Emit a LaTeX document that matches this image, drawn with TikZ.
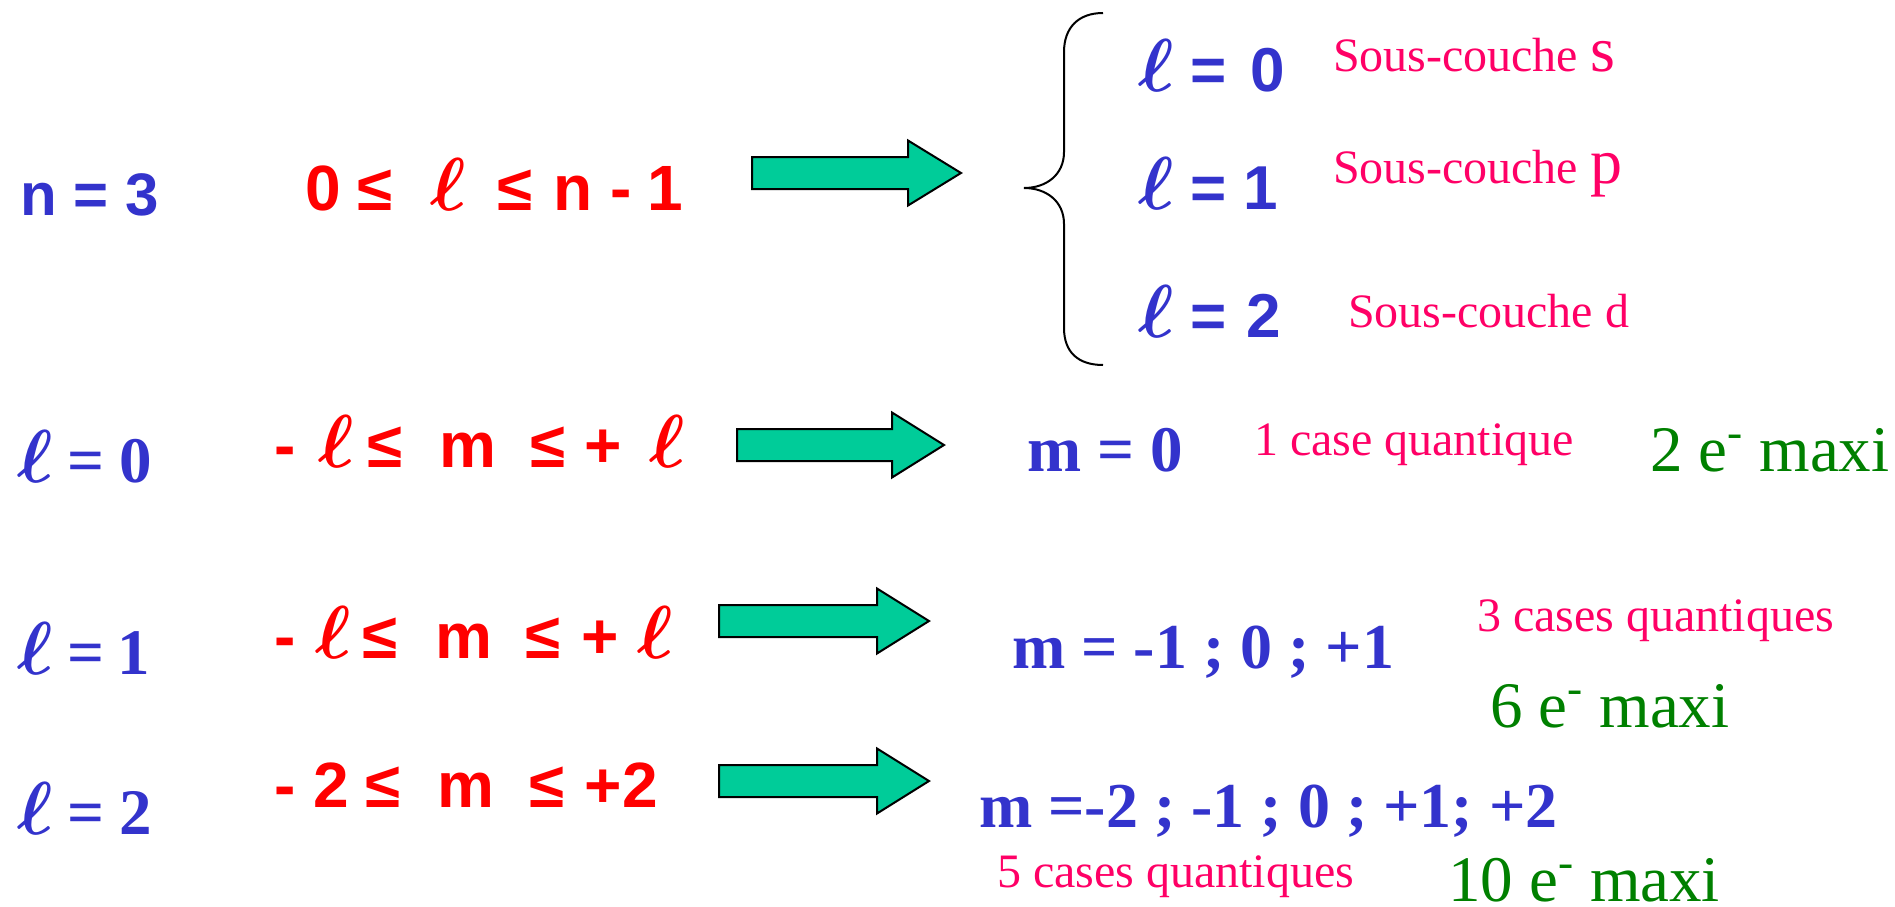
\RequirePackage{fix-cm}
\documentclass[tikz,border=0pt]{standalone}
\usepackage{fontspec}
\setmainfont{Liberation Serif}
\newfontfamily\arialfont{Liberation Sans}
\definecolor{cblue}{RGB}{51,51,204}
\definecolor{cred}{RGB}{255,0,0}
\definecolor{cpink}{RGB}{255,0,102}
\definecolor{cgreen}{RGB}{0,128,0}
\definecolor{cteal}{RGB}{0,204,153}
\newcommand\fsz[1]{\fontsize{#1}{#1}\selectfont}
\newcommand\pcs[2]{\makebox[#1pt][l]{#2}}
\newcommand\ellx{{\fsz{75}\boldmath$\ell$}}
\newcommand\blockarr[4]{%
  \draw[arrowst] (#1,{#2-16}) -- (#3,{#2-16}) -- (#3,{#2-32.5}) -- (#4,#2)
    -- (#3,{#2+32.5}) -- (#3,{#2+16}) -- (#1,{#2+16}) -- cycle;}
\tikzset{
  txt/.style={anchor=base west, inner sep=0pt, outer sep=0pt},
  arialb/.style={txt, font=\arialfont\bfseries\fsz{#1}},
  timesb/.style={txt, font=\bfseries\fsz{#1}},
  times/.style={txt, font=\fsz{#1}},
  arrowst/.style={draw=black, line width=2pt, fill=cteal, line join=miter},
}
\begin{document}
\begin{tikzpicture}[x=1pt,y=-1pt]
\useasboundingbox (0,0) rectangle (1895,907);

% row 1
\node[arialb=60, text=cblue] (n3) at (20,215) {n = 3};
\node[arialb=64, text=cred] (r1) at (305,210) {\pcs{53}{0}\pcs{72}{≤}\pcs{67}{\ellx}\pcs{56}{≤}\pcs{58}{n}\pcs{37}{-}1};
\blockarr{752}{173}{908}{961}

% brace
\draw[line width=2pt] (1103,13) .. controls (1078,13) and (1064,28) .. (1064,52) -- (1064,152)
  .. controls (1064,175) and (1046,188) .. (1024,188)
  .. controls (1046,188) and (1064,201) .. (1064,224) -- (1064,328)
  .. controls (1064,352) and (1078,365) .. (1103,365);

\node[arialb=62, text=cblue] (b0) at (1138,92) {\pcs{52}{\ellx}\pcs{61}{=}0};
\node[arialb=62, text=cblue] (b1) at (1138,209) {\pcs{52}{\ellx}\pcs{54}{=}1};
\node[arialb=62, text=cblue] (b2) at (1138,337) {\pcs{52}{\ellx}\pcs{56}{=}2};
\node[times=48, text=cpink] (ss) at (1333,71) {Sous-couche {\fsz{64}s}};
\node[times=48, text=cpink] (sp) at (1333,183) {Sous-couche {\fsz{64}p}};
\node[times=48, text=cpink] (sd) at (1348,327) {Sous-couche d};

% row 2
\node[timesb=65, text=cblue] (l0) at (17,482) {\pcs{50}{\ellx}\pcs{53}{=}0};
\node[arialb=64, text=cred] (r2) at (274,467) {\pcs{44}{-}\pcs{49}{\ellx}\pcs{72}{≤}\pcs{92}{m}\pcs{54}{≤}\pcs{64}{+}\ellx};
\blockarr{737}{445}{892}{944}
\node[timesb=65, text=cblue] (m0) at (1027,471) {m = 0};
\node[times=48, text=cpink] (q1) at (1254,455) {1 case quantique};
\node[times=65, text=cgreen] (e2) at (1650,471) {2 e\textsuperscript{-} maxi};

% row 3
\node[timesb=65, text=cblue] (l1) at (17,674) {\pcs{50}{\ellx}\pcs{51}{=}1};
\node[arialb=64, text=cred] (r3) at (274,658) {\pcs{41}{-}\pcs{47}{\ellx}\pcs{74}{≤}\pcs{90}{m}\pcs{56}{≤}\pcs{55}{+}\ellx};
\blockarr{719}{621}{877}{929}
\node[timesb=64, text=cblue] (m1) at (1012,668) {m = -1 ; 0 ; +1};
\node[times=48, text=cpink] (q3) at (1477,631) {3 cases quantiques};
\node[times=65, text=cgreen] (e6) at (1490,727) {6 e\textsuperscript{-} maxi};

% row 4
\node[timesb=65, text=cblue] (l2) at (17,834) {\pcs{50}{\ellx}\pcs{53}{=}2};
\node[arialb=64, text=cred] (r4) at (274,807) {\pcs{40}{-}\pcs{52}{2}\pcs{72}{≤}\pcs{92}{m}\pcs{55}{≤}\pcs{38}{+}2};
\blockarr{719}{781}{877}{929}
\node[timesb=64, text=cblue] (m2) at (979,827) {m =-2 ; -1 ; 0 ; +1; +2};
\node[times=48, text=cpink] (q5) at (997,887) {5 cases quantiques};
\node[times=65, text=cgreen] (e10) at (1448,901) {10 e\textsuperscript{-} maxi};
\end{tikzpicture}
\end{document}
